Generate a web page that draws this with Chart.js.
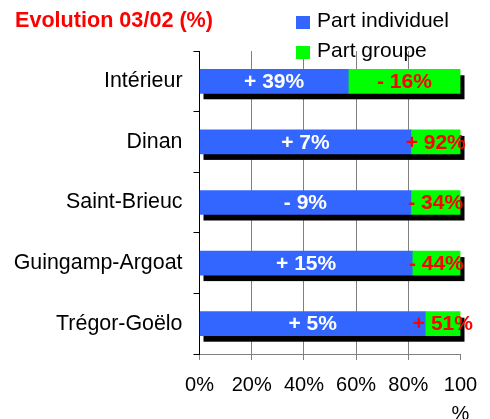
<!DOCTYPE html>
<html lang="fr">
<head>
<meta charset="UTF-8">
<title>Evolution 03/02</title>
<style>
  body { margin: 0; background: #fff; }
  #wrap { width: 490px; height: 419px; position: relative; }
</style>
</head>
<body>
<div id="wrap"><canvas id="myChart"></canvas></div>
<script src="https://cdn.jsdelivr.net/npm/chart.js"></script>
<script>
// data
const categories = ['Intérieur', 'Dinan', 'Saint-Brieuc', 'Guingamp-Argoat', 'Trégor-Goëlo'];
const partIndividuel = [57, 81, 81, 81.5, 86.5];
const partGroupe = [43, 19, 19, 18.5, 13.5];
const evolIndividuel = ['+ 39%', '+ 7%', '- 9%', '+ 15%', '+ 5%'];
const evolGroupe = ['- 16%', '+ 92%', '- 34%', '- 44%', '+ 51%'];
const xTicks = [0, 20, 40, 60, 80, 100];
const title = 'Evolution 03/02 (%)';

const FONT = '"Liberation Sans", Arial, sans-serif';

// black drop shadow under each whole bar
const shadowPlugin = {
  id: 'shadow',
  beforeDatasetsDraw(chart) {
    const ctx = chart.ctx;
    const m0 = chart.getDatasetMeta(0), m1 = chart.getDatasetMeta(1);
    ctx.save();
    ctx.fillStyle = '#000';
    m0.data.forEach((el, i) => {
      const el2 = m1.data[i];
      const left = Math.min(el.base, el2.base);
      const right = Math.max(el.x, el2.x);
      ctx.fillRect(left + 3.5, el.y - el.height / 2 + 6, right - left + 0.5, el.height);
    });
    ctx.restore();
  }
};

// values written in the bars, title and legend
const textPlugin = {
  id: 'texts',
  afterDatasetsDraw(chart) {
    const ctx = chart.ctx;
    ctx.save();
    ctx.font = 'bold 21px ' + FONT;
    ctx.textAlign = 'center';
    ctx.textBaseline = 'middle';
    const lists = [evolIndividuel, evolGroupe];
    const colors = ['#ffffff', '#ff0000'];
    [0, 1].forEach(d => {
      chart.getDatasetMeta(d).data.forEach((el, i) => {
        ctx.fillStyle = colors[d];
        ctx.fillText(lists[d][i], (el.base + el.x) / 2, el.y + 1);
      });
    });
    ctx.restore();
  },
  afterDraw(chart) {
    const ctx = chart.ctx;
    ctx.save();
    ctx.font = 'bold 21.6px ' + FONT;
    ctx.fillStyle = '#ff0000';
    ctx.textBaseline = 'alphabetic';
    ctx.textAlign = 'left';
    ctx.fillText(title, 15, 27);
    ctx.font = '21px ' + FONT;
    chart.data.datasets.forEach((ds, i) => {
      const y = 16 + i * 30;
      ctx.fillStyle = ds.backgroundColor;
      ctx.fillRect(296, y, 14, 13);
      ctx.fillStyle = '#000';
      ctx.fillText(ds.label, 317, y + 11);
    });
    ctx.restore();
  }
};

new Chart(document.getElementById('myChart'), {
  type: 'bar',
  data: {
    labels: categories,
    datasets: [
      { label: 'Part individuel', data: partIndividuel, backgroundColor: '#3366ff' },
      { label: 'Part groupe', data: partGroupe, backgroundColor: '#00ff00' }
    ]
  },
  options: {
    indexAxis: 'y',
    responsive: true,
    maintainAspectRatio: false,
    animation: false,
    barThickness: 24,
    layout: { padding: { top: 51, right: 29.5, left: 0, bottom: 0 } },
    plugins: {
      legend: { display: false },
      title: { display: false },
      tooltip: { enabled: false }
    },
    scales: {
      x: {
        stacked: true,
        min: 0,
        max: 100,
        afterBuildTicks: s => { s.ticks = xTicks.map(v => ({ value: v })); },
        afterFit: s => { s.height = 65; },
        grid: {
          color: c => (c.tick && c.tick.value === 100) ? 'rgba(0,0,0,0)' : '#808080',
          tickColor: '#808080',
          tickLength: 6,
          lineWidth: 1
        },
        border: { color: '#808080' },
        ticks: {
          padding: 11,
          color: '#000',
          maxRotation: 0,
          font: { family: FONT, size: 20, lineHeight: 1.45 },
          callback: v => v === 100 ? ['100', '%'] : v + '%'
        }
      },
      y: {
        stacked: true,
        afterFit: s => { s.width = 199.5; },
        grid: {
          drawOnChartArea: false,
          color: '#000',
          tickLength: 6
        },
        border: { color: '#000' },
        ticks: {
          padding: 11,
          color: '#000',
          font: { family: FONT, size: 21.4 }
        }
      }
    }
  },
  plugins: [shadowPlugin, textPlugin]
});
</script>
</body>
</html>
